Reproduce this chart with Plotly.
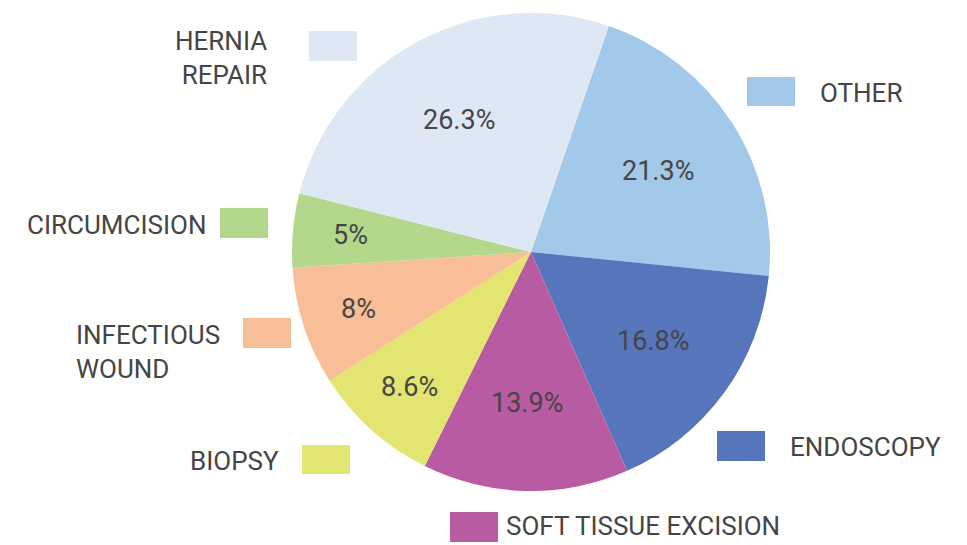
import math
import plotly.graph_objects as go

# ---- data ----
categories = ["OTHER", "ENDOSCOPY", "SOFT TISSUE EXCISION", "BIOPSY",
              "INFECTIOUS WOUND", "CIRCUMCISION", "HERNIA REPAIR"]
values = [21.3, 16.8, 13.9, 8.6, 8, 5, 26.3]
colors = ["#a2c8ea", "#5675bd", "#b95ba3", "#e2e56f",
          "#f8be97", "#b3d78b", "#dee8f5"]
label_text = ["OTHER", "ENDOSCOPY", "SOFT TISSUE EXCISION", "BIOPSY",
              "INFECTIOUS<br>WOUND", "CIRCUMCISION", "HERNIA<br>REPAIR"]

W, H = 967, 545
TXT = "#454545"
FONT = "Roboto"
ROTATION = 19
CX, CY, R = 531, 252, 239  # pie centre / radius in pixels (layout)

# ---- layout of external labels (pixel positions) ----
label_layout = {
    "OTHER": (747, 77, 795, 106, 818, 93, "left"),
    "ENDOSCOPY": (717, 431, 765, 461, 788, 447, "left"),
    "SOFT TISSUE EXCISION": (450, 512, 498, 542, 504, 526, "left"),
    "BIOPSY": (302, 445, 350, 474, 281, 461, "right"),
    "INFECTIOUS WOUND": (243, 318, 291, 348, 74, 352, "left"),
    "CIRCUMCISION": (220, 208, 268, 238, 208, 225, "right"),
    "HERNIA REPAIR": (309, 31, 357, 61, 269, 58, "right"),
}

fig = go.Figure(go.Pie(
    labels=categories,
    values=values,
    textinfo="none",
    sort=False,
    direction="clockwise",
    rotation=ROTATION,
    marker=dict(colors=colors, line=dict(width=0)),
    showlegend=False,
    hoverinfo="label+percent",
    domain=dict(x=[(CX - R) / W, (CX + R) / W],
                y=[(H - CY - R) / H, (H - CY + R) / H]),
))

shapes = []
annotations = []
for cat, lab in zip(categories, label_text):
    x0, y0, x1, y1, tx, ty, anc = label_layout[cat]
    col = colors[categories.index(cat)]
    shapes.append(dict(type="rect", xref="paper", yref="paper",
                       x0=x0 / W, x1=x1 / W, y0=1 - y1 / H, y1=1 - y0 / H,
                       fillcolor=col, line=dict(width=0)))
    annotations.append(dict(xref="paper", yref="paper", x=tx / W, y=1 - ty / H,
                            text=lab, showarrow=False, xanchor=anc,
                            yanchor="middle", align=anc,
                            font=dict(family=FONT, size=26, color=TXT)))

# percentage labels at each slice's mid-angle, derived from the values
total = sum(values)
cum = 0.0
for v in values:
    mid = ROTATION + (cum + v / 2) / total * 360
    cum += v
    frac = 0.63 if v / total > 0.1 else 0.76
    px = CX + frac * R * math.sin(math.radians(mid))
    py = CY - frac * R * math.cos(math.radians(mid))
    annotations.append(dict(xref="paper", yref="paper", x=px / W, y=1 - py / H,
                            text=f"{v:g}%", showarrow=False,
                            xanchor="center", yanchor="middle",
                            font=dict(family=FONT, size=27, color=TXT)))

fig.update_layout(
    width=W, height=H,
    margin=dict(l=0, r=0, t=0, b=0),
    paper_bgcolor="white",
    plot_bgcolor="white",
    shapes=shapes,
    annotations=annotations,
)

fig.write_html("out.html",
               config={"displayModeBar": False},
               post_script="document.body.style.margin='0';")
